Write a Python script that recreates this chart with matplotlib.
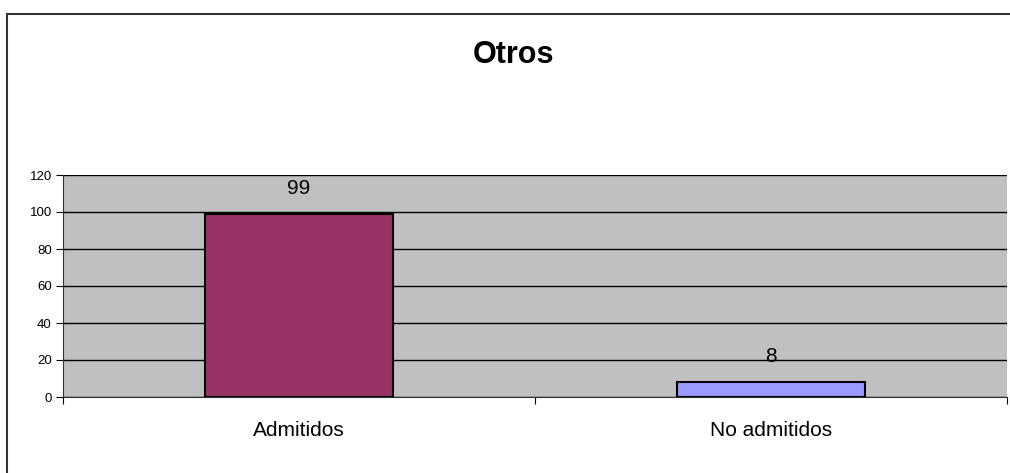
import matplotlib.pyplot as plt
from matplotlib.patches import Rectangle

categories = ['Admitidos', 'No admitidos']
values = [99, 8]
colors = ['#993366', '#9999FF']
yticks = [0, 20, 40, 60, 80, 100, 120]

plt.rcParams['font.family'] = ['Liberation Sans', 'DejaVu Sans']

W, H = 1010, 473
fig = plt.figure(figsize=(W / 100, H / 100), dpi=100)

# outer chart frame (runs off the right/bottom edge of the picture)
fig.patches.append(Rectangle((7 / W, -0.1), 1.2, 1 - 14 / H + 0.1, transform=fig.transFigure,
                             fill=False, edgecolor='#333333', linewidth=1.5))

ax = fig.add_axes([63 / W, 1 - 397 / H, (1007 - 63) / W, (397 - 175) / H])
ax.set_facecolor('#C0C0C0')

x = range(len(categories))
bars = ax.bar(x, values, width=0.4, color=colors, edgecolor='black', linewidth=1.5, zorder=3)
for xi, v in zip(x, values):
    ax.annotate(str(v), (xi, v), xytext=(0, 11.5), textcoords='offset points',
                ha='center', va='bottom', fontsize=15, zorder=4)

ax.set_xlim(-0.5, 1.5)
ax.set_ylim(0, 120)
ax.set_yticks(yticks)
ax.tick_params(axis='y', length=5, labelsize=9.5, pad=3)
ax.yaxis.grid(True, color='black', linewidth=1)
ax.set_axisbelow(True)

ax.set_xticks([-0.5, 0.5, 1.5])
ax.set_xticklabels([])
ax.set_xticks(list(x), minor=True)
ax.set_xticklabels(categories, minor=True, fontsize=15)
ax.tick_params(axis='x', which='major', length=5, direction='out')
ax.tick_params(axis='x', which='minor', length=0, pad=17)

for s in ['top', 'right']:
    ax.spines[s].set_visible(False)
ax.spines['left'].set_color('#333333')
ax.spines['bottom'].set_color('#333333')

fig.text(514 / W, 1 - 55 / H, 'Otros', ha='center', va='center', fontsize=22, fontweight='bold')

fig.savefig('out.png', dpi=100)
